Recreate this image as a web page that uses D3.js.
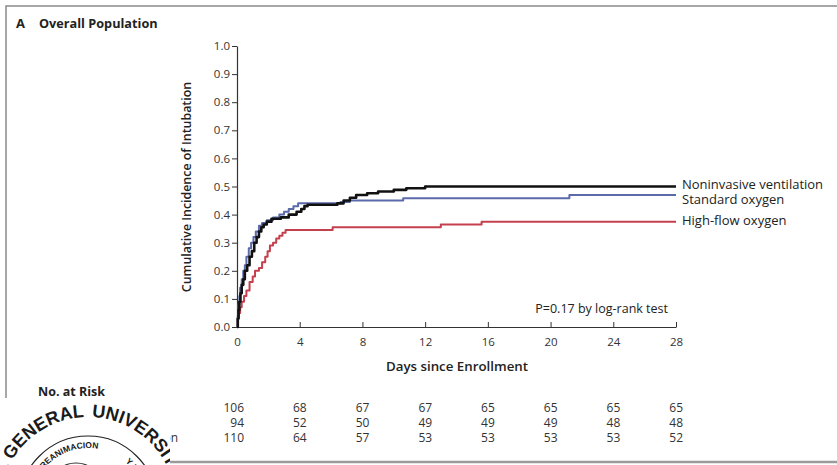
<!DOCTYPE html>
<html><head><meta charset="utf-8">
<script src="https://cdn.jsdelivr.net/npm/d3@7"></script>
<style>body{margin:0;background:#fff}svg{display:block}</style>
</head><body>
<svg id="c" width="837" height="465"></svg>
<script>
// ---------- data ----------
const seriesNames = ["Noninvasive ventilation", "Standard oxygen", "High-flow oxygen"];

const nivDays   = [0,0.05,0.1,0.15,0.22,0.3,0.4,0.5,0.65,0.8,0.95,1.1,1.25,1.4,1.55,1.7,1.9,2.2,2.8,3.3,3.8,4.1,4.3,4.5,6.4,6.8,7.2,7.6,8.3,9.0,10.0,10.8,12.0,28];
const nivValues = [0,0.03,0.06,0.09,0.12,0.15,0.17,0.2,0.22,0.25,0.27,0.3,0.32,0.34,0.355,0.365,0.375,0.385,0.39,0.40,0.41,0.42,0.43,0.435,0.44,0.45,0.46,0.47,0.476,0.482,0.488,0.494,0.5,0.5];

const stdDays   = [0,0.05,0.1,0.15,0.2,0.3,0.4,0.5,0.6,0.75,0.9,1.05,1.2,1.4,1.6,1.9,2.3,2.7,3.0,3.3,3.6,3.9,6.6,7.2,10.6,21.2,28];
const stdValues = [0,0.04,0.08,0.11,0.14,0.17,0.2,0.22,0.25,0.28,0.3,0.32,0.34,0.36,0.37,0.38,0.39,0.40,0.41,0.42,0.43,0.44,0.445,0.45,0.458,0.47,0.47];

const hfDays    = [0,0.05,0.1,0.2,0.3,0.45,0.6,0.8,1.0,1.15,1.4,1.6,1.8,1.95,2.1,2.3,2.5,2.7,2.9,3.1,6.1,13.0,15.6,28];
const hfValues  = [0,0.03,0.05,0.07,0.09,0.11,0.13,0.16,0.18,0.2,0.21,0.23,0.25,0.27,0.29,0.30,0.315,0.325,0.335,0.345,0.355,0.365,0.375,0.375];

const xTicks = [0,4,8,12,16,20,24,28];
const yTicks = [0,0.1,0.2,0.3,0.4,0.5,0.6,0.7,0.8,0.9,1.0];

const riskLabels   = ["High-flow oxygen", "Standard oxygen", "Noninvasive ventilation"];
const riskHighFlow = [106,68,67,67,65,65,65,65];
const riskStandard = [94,52,50,49,49,49,48,48];
const riskNIV      = [110,64,57,53,53,53,53,52];

// ---------- drawing ----------
const FONT = "'Open Sans','Noto Sans',sans-serif";
const svg = d3.select("#c").style("font-family", FONT);
svg.append("rect").attr("width",837).attr("height",465).attr("fill","#fff");

// frame
svg.append("path").attr("d","M6,465 V6 H837").attr("fill","none").attr("stroke","#8a8a8a").attr("stroke-width",1.5);
svg.append("line").attr("x1",6).attr("x2",837).attr("y1",462).attr("y2",462).attr("stroke","#9a9a9a").attr("stroke-width",2.5);

// title
svg.append("text").attr("x",16).attr("y",28).attr("font-size",13).attr("font-weight",700).attr("fill","#222").text("A");
svg.append("text").attr("x",39).attr("y",28).attr("font-size",12.7).attr("font-weight",700).attr("fill","#222").text("Overall Population");

const x = d3.scaleLinear().domain([0,28]).range([237,676]);
const y = d3.scaleLinear().domain([0,1]).range([327,46]);

// y axis
const ya = svg.append("g").attr("transform","translate(237,0)")
  .call(d3.axisLeft(y).tickValues(yTicks).tickFormat(d3.format(".1f")).tickSize(5).tickSizeOuter(0).tickPadding(2));
ya.select(".domain").attr("stroke","#333").attr("stroke-width",1.2);
ya.selectAll(".tick line").attr("stroke","#333");
ya.selectAll(".tick text").attr("font-size",11.5).attr("fill","#333").attr("font-family",FONT);

// x axis (ticks inward)
const xa = svg.append("g").attr("transform","translate(0,327)")
  .call(d3.axisBottom(x).tickValues(xTicks).tickSize(-5).tickSizeOuter(0).tickPadding(11));
xa.select(".domain").attr("stroke","#333").attr("stroke-width",1.2);
xa.selectAll(".tick line").attr("stroke","#333");
xa.selectAll(".tick text").attr("font-size",11.5).attr("fill","#333").attr("font-family",FONT);

// axis titles
svg.append("text").attr("transform","translate(191,187) rotate(-90)").attr("text-anchor","middle")
  .attr("font-size",12.4).attr("font-weight",600).attr("fill","#222").text("Cumulative Incidence of Intubation");
svg.append("text").attr("x",457).attr("y",371).attr("text-anchor","middle")
  .attr("font-size",13.3).attr("font-weight",600).attr("fill","#222").text("Days since Enrollment");

// curves
const line = d3.line().x(d=>x(d[0])).y(d=>y(d[1])).curve(d3.curveStepAfter);
const curves = [
  {days: hfDays,  vals: hfValues,  color:"#c5404e", w:2},
  {days: stdDays, vals: stdValues, color:"#5a6aaa", w:2},
  {days: nivDays, vals: nivValues, color:"#111111", w:2.6}
];
curves.forEach(c=>{
  svg.append("path").datum(c.days.map((d,i)=>[d,c.vals[i]]))
    .attr("d",line).attr("fill","none").attr("stroke",c.color).attr("stroke-width",c.w).attr("stroke-linejoin","round");
});

// series labels
const labelY = [189, 204, 225];
seriesNames.forEach((n,i)=>{
  svg.append("text").attr("x",682).attr("y",labelY[i]).attr("font-size",13).attr("fill","#222").text(n);
});

// p value
svg.append("text").attr("x",668).attr("y",313).attr("text-anchor","end").attr("font-size",12.5).attr("fill","#222").text("P=0.17 by log-rank test");

// risk table
svg.append("text").attr("x",38).attr("y",396).attr("font-size",12.5).attr("font-weight",700).attr("fill","#222").text("No. at Risk");
const riskRows = [riskHighFlow, riskStandard, riskNIV];
const rowY = [412, 427, 442];
const rowLabels = riskRows.map((row,r)=>
  svg.append("text").attr("y",rowY[r]).attr("font-size",12).attr("fill","#333").text(riskLabels[r]));
const nivLen = rowLabels[2].node().getComputedTextLength();
const labelX = 178 - nivLen;
rowLabels.forEach(t=>t.attr("x",labelX));
riskRows.forEach((row,r)=>{
  row.forEach((v,i)=>{
    svg.append("text").attr("x",x(xTicks[i])+7).attr("y",rowY[r]).attr("text-anchor","end")
      .attr("font-size",12).attr("fill","#333").text(v);
  });
});

// stamp overlay (bottom-left)
const st = svg.append("g");
st.append("clipPath").attr("id","stclip").append("rect").attr("x",0).attr("y",398).attr("width",170).attr("height",67);
st.append("rect").attr("x",0).attr("y",398).attr("width",170).attr("height",67).attr("fill","#fff");
const sg = st.append("g").attr("clip-path","url(#stclip)");
const cx = 88, cy = 505;
function arcPath(r){ // from bottom-left around the top to bottom-right
  const a0 = -170*Math.PI/180, a1 = 170*Math.PI/180;
  const p = a=>[cx + r*Math.sin(a), cy - r*Math.cos(a)];
  const s = p(a0), e = p(a1);
  return `M${s[0]},${s[1]} A${r},${r} 0 1 1 ${e[0]},${e[1]}`;
}
const STAMPFONT = "'Liberation Sans Narrow','Liberation Sans',sans-serif";
const defs = svg.append("defs");
defs.append("path").attr("id","outerArc").attr("d",arcPath(88));
defs.append("path").attr("id","innerArc").attr("d",arcPath(57));
sg.append("circle").attr("cx",cx).attr("cy",cy).attr("r",69).attr("fill","none").attr("stroke","#222").attr("stroke-width",1.2);
sg.append("text").attr("font-size",18).attr("font-weight",700).attr("fill","#1a1a1a").attr("font-family",STAMPFONT)
  .append("textPath").attr("href","#outerArc").attr("startOffset","49.3%").attr("text-anchor","end").text("HOSPITAL GENERAL");
sg.append("text").attr("font-size",18).attr("font-weight",700).attr("fill","#1a1a1a").attr("font-family",STAMPFONT)
  .append("textPath").attr("href","#outerArc").attr("startOffset","50.7%").attr("text-anchor","start").text("UNIVERSITARIO");
sg.append("text").attr("font-size",8.5).attr("font-weight",700).attr("fill","#1a1a1a").attr("font-family",STAMPFONT)
  .append("textPath").attr("href","#innerArc").attr("startOffset","53%").attr("text-anchor","end").text("ANESTESIOLOGIA, REANIMACION");
sg.append("text").attr("font-size",8.5).attr("font-weight",700).attr("fill","#1a1a1a").attr("font-family",STAMPFONT)
  .append("textPath").attr("href","#innerArc").attr("startOffset","62%").attr("text-anchor","start").text("Y TERAPIA");
sg.append("ellipse").attr("cx",76).attr("cy",468).attr("rx",13).attr("ry",5).attr("fill","none").attr("stroke","#333").attr("stroke-width",1.2);
</script>
</body></html>
